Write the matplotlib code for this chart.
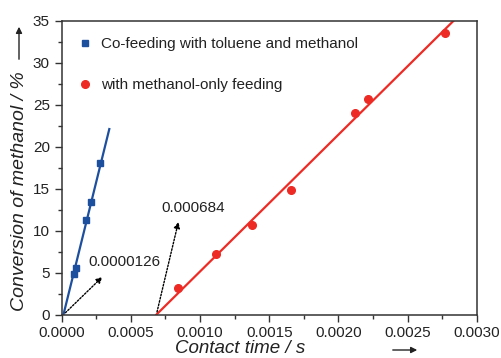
import matplotlib
matplotlib.use("Agg")
import matplotlib.pyplot as plt
from matplotlib.ticker import MultipleLocator, FormatStrFormatter
import numpy as np

plt.rcParams['font.family'] = ['Liberation Sans', 'DejaVu Sans']

# data
blue_x = [0.0000911, 0.000103, 0.000178, 0.000210, 0.000277]
blue_y = [4.81, 5.52, 11.3, 13.38, 18.1]
red_x = [0.000843, 0.001118, 0.001374, 0.001658, 0.002116, 0.002215, 0.002769]
red_y = [3.2, 7.2, 10.68, 14.85, 23.98, 25.7, 33.57]

blue_intercept = 0.0000126
blue_slope = 66700.0
blue_line_end = 0.000344
red_intercept = 0.000684
red_slope = 16294.0
red_line_end = 0.002832

blue = '#1d4f9f'
red = '#ee2a24'

fig = plt.figure(figsize=(5.02, 3.58), dpi=100)
ax = fig.add_axes([0.1229, 0.121, 0.827, 0.821])

bx = np.array([0.0, blue_line_end])
ax.plot(bx, blue_slope * (bx - blue_intercept), color=blue, lw=1.6, zorder=2)
rx = np.array([red_intercept, red_line_end])
ax.plot(rx, red_slope * (rx - red_intercept), color=red, lw=1.6, zorder=2)

ax.plot(blue_x, blue_y, 's', color=blue, ms=5, zorder=3,
        label='Co-feeding with toluene and methanol')
ax.plot(red_x, red_y, 'o', color=red, ms=5.5, zorder=3,
        label='with methanol-only feeding')

ax.set_xlim(0, 0.003)
ax.set_ylim(0, 35)
ax.xaxis.set_major_locator(MultipleLocator(0.0005))
ax.xaxis.set_minor_locator(MultipleLocator(0.00025))
ax.yaxis.set_major_locator(MultipleLocator(5))
ax.yaxis.set_minor_locator(MultipleLocator(2.5))
ax.xaxis.set_major_formatter(FormatStrFormatter('%.4f'))
ax.tick_params(which='both', direction='out', top=False, right=False,
               colors='#333333', labelcolor='#222222')
ax.tick_params(which='major', length=5, width=1, labelsize=11)
ax.tick_params(which='minor', length=3, width=1)
for s in ax.spines.values():
    s.set_color('#333333')
    s.set_linewidth(1.1)

# annotations
arrow_kw = dict(arrowstyle='-|>', linestyle=(0, (1.2, 1.2)), color='black', lw=1.0,
                mutation_scale=9)
ax.annotate('', xy=(0.000308, 4.73), xytext=(blue_intercept, 0.0),
            arrowprops=arrow_kw)
ax.text(0.000192, 6.3, '0.0000126', fontsize=11, va='center', ha='left', color='#222222')
ax.annotate('', xy=(0.000848, 11.36), xytext=(red_intercept, 0.0),
            arrowprops=arrow_kw)
ax.text(0.00072, 12.74, '0.000684', fontsize=11, va='center', ha='left', color='#222222')

leg = ax.legend(loc='upper left', frameon=False, fontsize=11, handletextpad=0.55,
                labelspacing=1.75, borderaxespad=0.5, handlelength=1.0,
                bbox_to_anchor=(0.005, 0.99))
for t in leg.get_texts():
    t.set_color('#222222')

ax.set_xlabel('Contact time / s', fontsize=13.5, style='italic', color='#222222')
ax.set_ylabel('Conversion of methanol / %', fontsize=14, style='italic', color='#222222')
ax.xaxis.set_label_coords(0.43, -0.085)
ax.yaxis.set_label_coords(-0.08, 0.42)

# axis-direction arrows
fig.add_artist(matplotlib.patches.FancyArrowPatch((19/502, 1 - 62/358), (19/502, 1 - 24/358),
               transform=fig.transFigure, arrowstyle='-|>', mutation_scale=9,
               color='#222222', lw=1.0))
fig.add_artist(matplotlib.patches.FancyArrowPatch((390/502, 1 - 350/358), (420/502, 1 - 350/358),
               transform=fig.transFigure, arrowstyle='-|>', mutation_scale=9,
               color='#222222', lw=1.0))

fig.savefig('out.png', dpi=100)
